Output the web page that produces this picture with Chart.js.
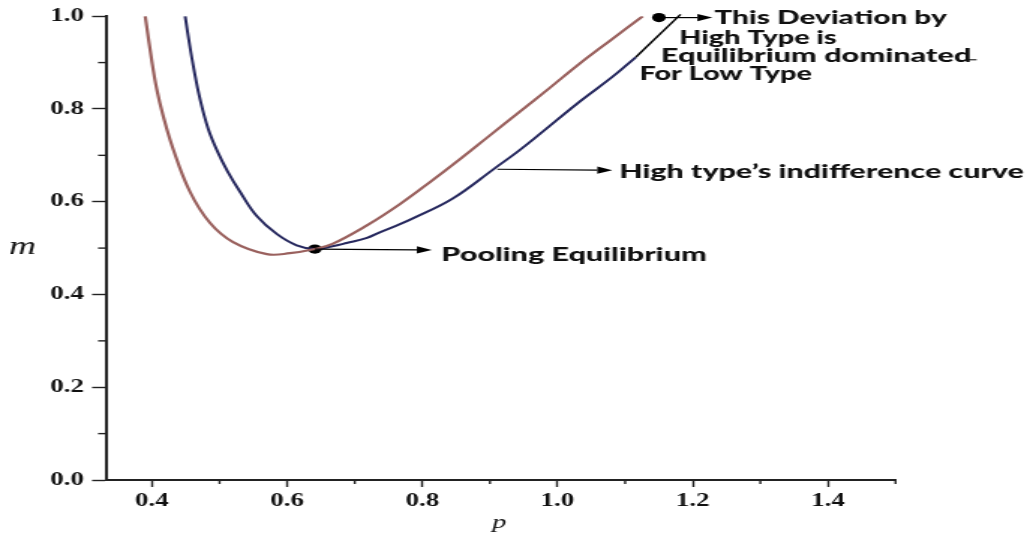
<!DOCTYPE html>
<html>
<head>
<meta charset="utf-8">
<script src="https://cdn.jsdelivr.net/npm/chart.js@4.4.1/dist/chart.umd.min.js"></script>
<style>
  html, body { margin: 0; padding: 0; background: #fff; }
  #chart { display: block; }
</style>
</head>
<body>
<!-- drawn narrow and stretched sideways, like the original figure -->
<canvas id="chart" width="687" height="538" style="width:1030px;height:538px"></canvas>
<script>
// Low type's indifference curve (brown)
const lowP = [0.390, 0.400, 0.407, 0.416, 0.431, 0.456, 0.486, 0.520, 0.570, 0.604, 0.641,
              0.667, 0.718, 0.766, 0.811, 0.855, 0.899, 0.944, 0.988, 1.032, 1.081, 1.126];
const lowM = [1.000, 0.901, 0.843, 0.788, 0.715, 0.622, 0.554, 0.513, 0.487, 0.489, 0.498,
              0.509, 0.549, 0.594, 0.642, 0.691, 0.742, 0.794, 0.845, 0.897, 0.951, 1.000];

// High type's indifference curve (navy)
const highP = [0.449, 0.455, 0.462, 0.471, 0.483, 0.497, 0.512, 0.530, 0.555, 0.585, 0.614, 0.641,
               0.667, 0.688, 0.718, 0.737, 0.766, 0.786, 0.845, 0.907, 0.941, 0.973, 1.032, 1.081, 1.116];
const highM = [1.000, 0.944, 0.886, 0.822, 0.758, 0.708, 0.665, 0.622, 0.569, 0.530, 0.506, 0.498,
               0.504, 0.511, 0.522, 0.534, 0.551, 0.564, 0.607, 0.672, 0.708, 0.745, 0.815, 0.869, 0.912];

// Marked points: pooling equilibrium, deviation by high type
const dotP = [0.641, 1.150];
const dotM = [0.498, 0.997];

// Axes
const xMin = 0.332, xMax = 1.5;
const yMin = 0, yMax = 1.0;
const xMajorTicks = [0.4, 0.6, 0.8, 1.0, 1.2, 1.4];
const xMinorTicks = [0.5, 0.7, 0.9, 1.1, 1.3, 1.5];
const yMajorTicks = [0.0, 0.2, 0.4, 0.6, 0.8, 1.0];
const yMinorTicks = [0.1, 0.3, 0.5, 0.7, 0.9];

// Annotation texts (anchor = left end of baseline, in data units)
const noteTexts = ['Pooling Equilibrium', 'High type\u2019s indifference curve',
                   'This Deviation by', 'High Type is', 'Equilibrium dominated', 'For Low Type'];
const noteP = [0.828, 1.091, 1.232, 1.180, 1.153, 1.121];
const noteM = [0.472, 0.652, 0.983, 0.940, 0.901, 0.863];
const noteWidths = [177, 270, 155, 105, 207, 115];

// Arrows: [fromP, fromM, toP, toM]
const arrows = [
  [0.641, 0.498, 0.814, 0.496],
  [0.911, 0.670, 1.081, 0.668],
  [1.150, 0.997, 1.229, 0.997]
];

const pts = (ps, ms) => ps.map((p, i) => ({ x: p, y: ms[i] }));

const tickFont = { family: '"Liberation Serif", "DejaVu Serif", serif', size: 18, weight: 'bold' };

function drawArrow(ctx, x1, y1, x2, y2) {
  const a = Math.atan2(y2 - y1, x2 - x1);
  const len = 10, half = 3.6;
  ctx.beginPath();
  ctx.moveTo(x1, y1);
  ctx.lineTo(x2 - Math.cos(a) * len, y2 - Math.sin(a) * len);
  ctx.stroke();
  ctx.beginPath();
  ctx.moveTo(x2, y2);
  ctx.lineTo(x2 - Math.cos(a) * len - Math.sin(a) * half, y2 - Math.sin(a) * len + Math.cos(a) * half);
  ctx.lineTo(x2 - Math.cos(a) * len + Math.sin(a) * half, y2 - Math.sin(a) * len - Math.cos(a) * half);
  ctx.closePath();
  ctx.fill();
}

// text squeezed/stretched to a given width
function fitText(ctx, text, x, y, width) {
  const w = ctx.measureText(text).width;
  ctx.save();
  ctx.translate(x, y);
  ctx.scale(width / w, 1);
  ctx.fillText(text, 0, 0);
  ctx.restore();
}

const annotations = {
  id: 'annotations',
  afterDraw(chart) {
    const { ctx, scales: { x, y } } = chart;
    const bottom = y.getPixelForValue(0);
    const left = x.getPixelForValue(xMin);
    ctx.save();

    // minor ticks
    ctx.strokeStyle = '#222';
    ctx.lineWidth = 1.4;
    xMinorTicks.forEach(v => {
      const px = x.getPixelForValue(v);
      ctx.beginPath(); ctx.moveTo(px, bottom); ctx.lineTo(px, bottom + 4); ctx.stroke();
    });
    yMinorTicks.forEach(v => {
      const py = y.getPixelForValue(v);
      ctx.beginPath(); ctx.moveTo(left, py); ctx.lineTo(left - 5.3, py); ctx.stroke();
    });

    // axis titles
    ctx.fillStyle = '#111';
    ctx.textAlign = 'center';
    ctx.textBaseline = 'alphabetic';
    ctx.font = 'italic 25px "Liberation Serif", serif';
    ctx.fillText('m', 15, y.getPixelForValue(0.5) + 6);
    ctx.font = 'italic 19px "Liberation Serif", serif';
    ctx.fillText('p', x.getPixelForValue(0.914), 528);

    // arrows
    ctx.strokeStyle = '#000';
    ctx.fillStyle = '#000';
    ctx.lineWidth = 1.2;
    arrows.forEach(([p1, m1, p2, m2]) => {
      drawArrow(ctx, x.getPixelForValue(p1), y.getPixelForValue(m1),
                x.getPixelForValue(p2), y.getPixelForValue(m2));
    });

    // black continuation of the high type curve up to the deviation
    ctx.lineWidth = 1.5;
    ctx.beginPath();
    ctx.moveTo(x.getPixelForValue(1.116), y.getPixelForValue(0.912));
    ctx.lineTo(x.getPixelForValue(1.182), y.getPixelForValue(1.004));
    ctx.stroke();

    // little stub after "dominated"
    ctx.lineWidth = 1;
    ctx.beginPath();
    ctx.moveTo(x.getPixelForValue(1.605), y.getPixelForValue(0.906));
    ctx.lineTo(x.getPixelForValue(1.620), y.getPixelForValue(0.906));
    ctx.stroke();

    // texts
    ctx.fillStyle = '#111';
    ctx.textAlign = 'left';
    ctx.font = '900 18px Lato, "Open Sans", sans-serif';
    noteTexts.forEach((t, i) => {
      fitText(ctx, t, x.getPixelForValue(noteP[i]), y.getPixelForValue(noteM[i]), noteWidths[i]);
    });
    ctx.restore();
  }
};

const chart = new Chart(document.getElementById('chart'), {
  type: 'scatter',
  data: {
    datasets: [
      {
        label: 'Low type',
        data: pts(lowP, lowM),
        showLine: true,
        borderColor: '#9a615e',
        borderWidth: 2.2,
        pointRadius: 0,
        tension: 0.4
      },
      {
        label: 'High type',
        data: pts(highP, highM),
        showLine: true,
        borderColor: '#26285e',
        borderWidth: 2,
        pointRadius: 0,
        tension: 0.4
      },
      {
        label: 'Equilibria',
        data: pts(dotP, dotM),
        showLine: false,
        pointRadius: 4.6,
        pointBackgroundColor: '#000',
        pointBorderWidth: 0,
        clip: false
      }
    ]
  },
  options: {
    responsive: false,
    devicePixelRatio: 1,
    animation: false,
    layout: { padding: { top: 14, right: 89.7, left: 0, bottom: 0 } },
    plugins: { legend: { display: false }, tooltip: { enabled: false } },
    scales: {
      x: {
        type: 'linear',
        min: xMin,
        max: xMax,
        afterBuildTicks: s => { s.ticks = xMajorTicks.map(v => ({ value: v })); },
        afterFit: s => { s.height = 58; },
        border: { display: true, color: '#222', width: 2 },
        grid: { drawOnChartArea: false, drawTicks: true, tickLength: 7, tickColor: '#222', tickWidth: 1.4 },
        ticks: {
          autoSkip: false, maxRotation: 0, padding: 4,
          color: '#111', font: tickFont,
          callback: v => v.toFixed(1)
        }
      },
      y: {
        type: 'linear',
        min: yMin,
        max: yMax,
        afterBuildTicks: s => { s.ticks = yMajorTicks.map(v => ({ value: v })); },
        afterFit: s => { s.width = 70.7; },
        border: { display: true, color: '#222', width: 2 },
        grid: { drawOnChartArea: false, drawTicks: true, tickLength: 9.3, tickColor: '#222', tickWidth: 1.4 },
        ticks: {
          autoSkip: false, padding: 5.4,
          color: '#111', font: tickFont,
          callback: v => v.toFixed(1)
        }
      }
    }
  },
  plugins: [annotations]
});
chart.canvas.style.width = '1030px';
chart.canvas.style.height = '538px';
</script>
</body>
</html>
